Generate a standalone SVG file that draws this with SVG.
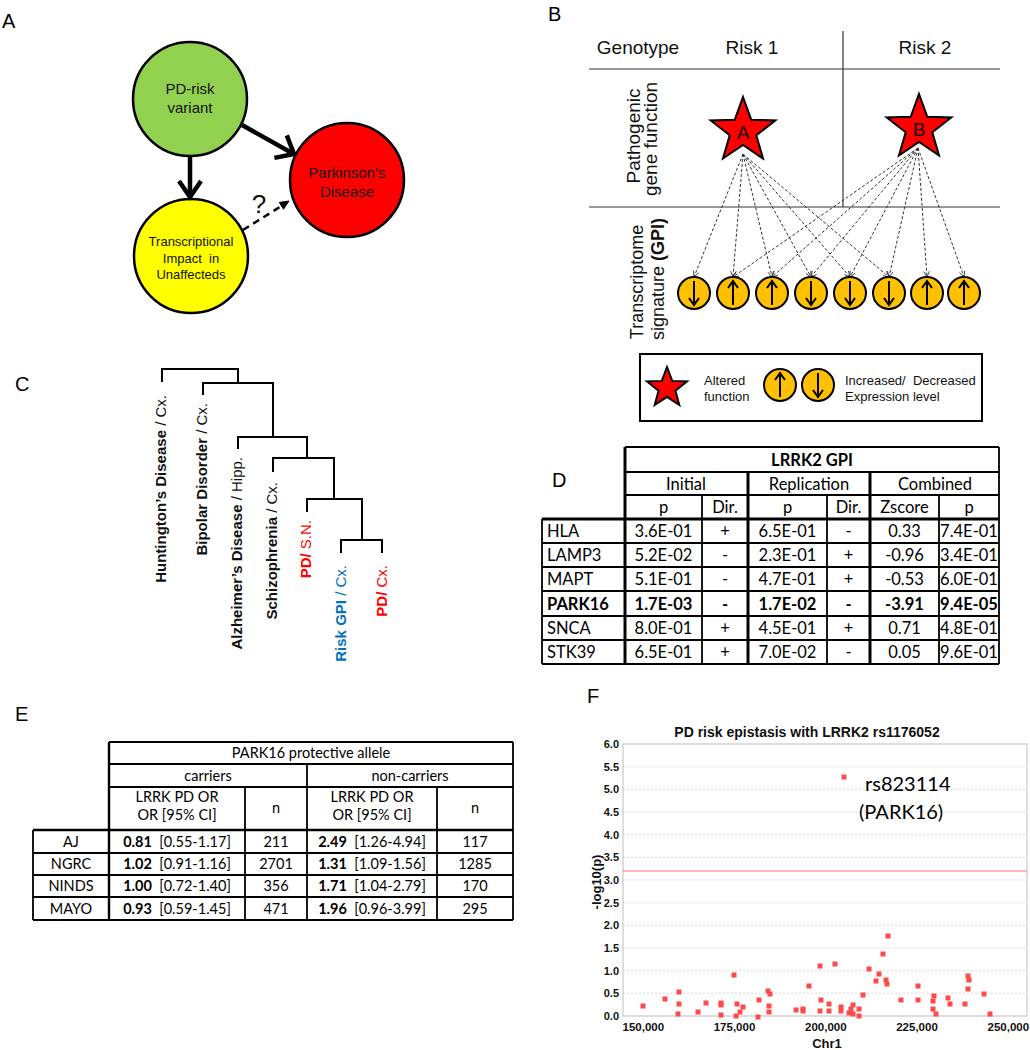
<svg xmlns="http://www.w3.org/2000/svg" width="1030" height="1050" viewBox="0 0 1030 1050">
<defs>
<style>
.lbl{font-family:"Liberation Sans",Arial,sans-serif;font-size:20px;fill:#000}
.ar{font-family:"Liberation Sans",Arial,sans-serif;fill:#111}
.cal{font-family:Lato,"Liberation Sans",sans-serif;fill:#000}
.tl{stroke:#000;stroke-width:1.8;fill:none}
.tk{stroke:#000;stroke-width:3;fill:none}
.dg{stroke:#000;stroke-width:2;fill:none}
.dash{stroke:#333;stroke-width:1;stroke-dasharray:3,2;fill:none}
.star{fill:#FF0000;stroke:#000;stroke-width:2;stroke-linejoin:miter}
.oc{fill:#FFC000;stroke:#000;stroke-width:2}
.ca{stroke:#000;stroke-width:2;fill:none}
.grid{stroke:#d8d8d8;stroke-width:1;stroke-dasharray:2,2}
.pt{fill:#FF4A4A}
.ax{font-family:"Liberation Sans",Arial,sans-serif;font-weight:bold;fill:#111}
</style>
<marker id="oa" viewBox="0 0 10 10" refX="9" refY="5" markerWidth="7" markerHeight="7" orient="auto" markerUnits="userSpaceOnUse">
<path d="M1,1 L9,5 L1,9" fill="none" stroke="#333" stroke-width="1.2"/>
</marker>
<g id="aup"><line x1="0" y1="12" x2="0" y2="-12"/><path d="M-5,-5 L0,-12 L5,-5"/></g>
</defs>
<rect width="1030" height="1050" fill="#fff"/>

<!-- Panel labels -->
<text class="lbl" x="2" y="28">A</text>
<text class="lbl" x="548" y="21">B</text>
<text class="lbl" x="15" y="391">C</text>
<text class="lbl" x="552" y="487">D</text>
<text class="lbl" x="15" y="721">E</text>
<text class="lbl" x="587" y="703">F</text>

<!-- Panel A -->
<g id="nodeA-variant">
<circle cx="190" cy="99" r="57" fill="#92D050" stroke="#000" stroke-width="2.5"/>
<text class="ar" x="190" y="94" font-size="15" text-anchor="middle">PD-risk</text>
<text class="ar" x="190" y="113" font-size="15" text-anchor="middle">variant</text>
</g>
<g id="nodeA-pd">
<circle cx="347" cy="180" r="57" fill="#FF0000" stroke="#000" stroke-width="2.5"/>
<text class="ar" x="347" y="178" font-size="15" text-anchor="middle" fill="#222">Parkinson’s</text>
<text class="ar" x="347" y="197" font-size="15" text-anchor="middle" fill="#222">Disease</text>
</g>
<g id="nodeA-tx">
<circle cx="191" cy="256" r="57" fill="#FFFF00" stroke="#000" stroke-width="2.5"/>
<text class="ar" x="191" y="246" font-size="13" text-anchor="middle">Transcriptional</text>
<text class="ar" x="191" y="263" font-size="13" text-anchor="middle" xml:space="preserve">Impact  in</text>
<text class="ar" x="191" y="279" font-size="13" text-anchor="middle">Unaffecteds</text>
</g>
<g id="connA" stroke="#000" fill="none">
<line x1="190" y1="156" x2="190" y2="195" stroke-width="4.5"/>
<path d="M179,181 L190,197 L201,181" stroke-width="4.5"/>
<line x1="242" y1="125" x2="292" y2="153" stroke-width="4.5"/>
<path d="M286.8,135.4 L294,154 L274.4,157.9" stroke-width="4.5"/>
<line x1="243" y1="230" x2="283" y2="205" stroke-width="2.5" stroke-dasharray="7,5"/>
<path d="M289,201 L283.5,209.2 L279.3,202.4 Z" fill="#000" stroke-width="1"/>
</g>
<text class="ar" x="259" y="213" font-size="26" text-anchor="middle" fill="#000">?</text>

<!-- Panel B -->
<g id="gridB" stroke="#333" stroke-width="1.2">
<line x1="589" y1="69" x2="1000" y2="69"/>
<line x1="589" y1="207" x2="1000" y2="207"/>
<line x1="843" y1="31" x2="843" y2="207"/>
</g>
<g id="headB">
<text class="ar" x="638" y="54" font-size="19" text-anchor="middle">Genotype</text>
<text class="ar" x="752" y="54" font-size="19" text-anchor="middle">Risk 1</text>
<text class="ar" x="925" y="54" font-size="19" text-anchor="middle">Risk 2</text>
<text class="ar" font-size="19" text-anchor="middle" transform="translate(640,136) rotate(-90)">Pathogenic</text>
<text class="ar" font-size="19" text-anchor="middle" transform="translate(657,139) rotate(-90)">gene function</text>
<text class="ar" font-size="18" text-anchor="middle" transform="translate(643,282) rotate(-90)">Transcriptome</text>
<text class="ar" font-size="18" text-anchor="middle" transform="translate(664,279) rotate(-90)">signature <tspan font-weight="bold">(GPI)</tspan></text>
</g>
<g id="connB" class="dash" marker-end="url(#oa)">
<line x1="743" y1="154" x2="694" y2="277" marker-end="url(#oa)"/>
<line x1="743" y1="154" x2="733" y2="277" marker-end="url(#oa)"/>
<line x1="743" y1="154" x2="772" y2="277" marker-end="url(#oa)"/>
<line x1="743" y1="154" x2="811" y2="277" marker-end="url(#oa)"/>
<line x1="743" y1="154" x2="850" y2="277" marker-end="url(#oa)"/>
<line x1="743" y1="154" x2="889" y2="277" marker-end="url(#oa)"/>
<line x1="918" y1="148" x2="733" y2="277" marker-end="url(#oa)"/>
<line x1="918" y1="148" x2="772" y2="277" marker-end="url(#oa)"/>
<line x1="918" y1="148" x2="811" y2="277" marker-end="url(#oa)"/>
<line x1="918" y1="148" x2="850" y2="277" marker-end="url(#oa)"/>
<line x1="918" y1="148" x2="889" y2="277" marker-end="url(#oa)"/>
<line x1="918" y1="148" x2="927" y2="277" marker-end="url(#oa)"/>
<line x1="918" y1="148" x2="964" y2="277" marker-end="url(#oa)"/>
</g>
<g id="starA">
<polygon class="star" points="743,97 751.2,119.7 775.3,120.5 756.3,135.3 763,158.5 743,145 723,158.5 729.7,135.3 710.7,120.5 734.8,119.7"/>
<text class="ar" x="743" y="139" font-size="19" text-anchor="middle" fill="#222">A</text>
</g>
<g id="starB">
<polygon class="star" points="919,94 927.2,116.7 951.3,117.5 932.3,132.3 939,155.5 919,142 899,155.5 905.7,132.3 886.7,117.5 910.8,116.7"/>
<text class="ar" x="919" y="136" font-size="19" text-anchor="middle" fill="#222">B</text>
</g>
<g id="genes">
<circle class="oc" cx="694" cy="293" r="16"/><use href="#aup" class="ca" transform="translate(694,293) rotate(180)"/>
<circle class="oc" cx="733" cy="293" r="16"/><use href="#aup" class="ca" transform="translate(733,293)"/>
<circle class="oc" cx="772" cy="293" r="16"/><use href="#aup" class="ca" transform="translate(772,293)"/>
<circle class="oc" cx="811" cy="293" r="16"/><use href="#aup" class="ca" transform="translate(811,293) rotate(180)"/>
<circle class="oc" cx="850" cy="293" r="16"/><use href="#aup" class="ca" transform="translate(850,293) rotate(180)"/>
<circle class="oc" cx="889" cy="293" r="16"/><use href="#aup" class="ca" transform="translate(889,293) rotate(180)"/>
<circle class="oc" cx="927" cy="293" r="16"/><use href="#aup" class="ca" transform="translate(927,293)"/>
<circle class="oc" cx="964" cy="293" r="16"/><use href="#aup" class="ca" transform="translate(964,293)"/>
</g>
<g id="legendB">
<rect x="640" y="354" width="342" height="67" fill="none" stroke="#000" stroke-width="2"/>
<polygon class="star" points="667,367 672.2,380.9 687,381.5 675.4,390.7 679.3,405 667,396.8 654.7,405 658.6,390.7 647,381.5 661.8,380.9"/>
<text class="ar" x="704" y="385" font-size="13">Altered</text>
<text class="ar" x="704" y="401" font-size="13">function</text>
<circle class="oc" cx="780" cy="385" r="16"/><use href="#aup" class="ca" transform="translate(780,385)"/>
<circle class="oc" cx="818" cy="385" r="16"/><use href="#aup" class="ca" transform="translate(818,385) rotate(180)"/>
<text class="ar" x="845" y="385" font-size="13" xml:space="preserve">Increased/  Decreased</text>
<text class="ar" x="845" y="401" font-size="13">Expression level</text>
</g>

<!-- Panel C dendrogram -->
<g id="dendro" class="dg">
<path d="M162,382 V369 H238 V383"/>
<path d="M203,395 V383 H273 V437"/>
<path d="M238,449 V437 H307 V458"/>
<path d="M273,472 V458 H334 V499"/>
<path d="M307,512 V499 H362 V540"/>
<path d="M341,553 V540 H382 V553"/>
</g>
<g id="leaves" class="ar" font-size="15">
<text transform="translate(166,395) rotate(-90)" text-anchor="end"><tspan font-weight="bold">Huntington’s Disease</tspan> / Cx.</text>
<text transform="translate(207,403) rotate(-90)" text-anchor="end"><tspan font-weight="bold">Bipolar Disorder</tspan> / Cx.</text>
<text transform="translate(242,457) rotate(-90)" text-anchor="end"><tspan font-weight="bold">Alzheimer’s Disease</tspan> / Hipp.</text>
<text transform="translate(277,482) rotate(-90)" text-anchor="end"><tspan font-weight="bold">Schizophrenia</tspan> / Cx.</text>
<text transform="translate(311,520) rotate(-90)" text-anchor="end" fill="#FF0000"><tspan font-weight="bold">PD/</tspan> S.N.</text>
<text transform="translate(346,565) rotate(-90)" text-anchor="end" fill="#0070C0"><tspan font-weight="bold">Risk GPI</tspan> / Cx.</text>
<text transform="translate(387,565) rotate(-90)" text-anchor="end" fill="#FF0000"><tspan font-weight="bold">PD/</tspan> Cx.</text>
</g>

<!-- Panel D table -->
<g id="tableD">
<g class="tl">
<line x1="625" y1="447" x2="999" y2="447"/>
<line x1="625" y1="472" x2="999" y2="472"/>
<line x1="625" y1="495" x2="999" y2="495"/>
<line x1="542" y1="543" x2="999" y2="543"/>
<line x1="542" y1="567" x2="999" y2="567"/>
<line x1="542" y1="591" x2="999" y2="591"/>
<line x1="542" y1="616" x2="999" y2="616"/>
<line x1="542" y1="640" x2="999" y2="640"/>
<line x1="542" y1="664" x2="999" y2="664"/>
<line x1="999" y1="447" x2="999" y2="664"/>
<line x1="542" y1="519" x2="542" y2="664"/>
<line x1="702" y1="495" x2="702" y2="664"/>
<line x1="827" y1="495" x2="827" y2="664"/>
<line x1="939" y1="495" x2="939" y2="664"/>
</g>
<g class="tk">
<line x1="542" y1="519" x2="999" y2="519"/>
<line x1="625" y1="447" x2="625" y2="664"/>
<line x1="748" y1="472" x2="748" y2="664"/>
<line x1="870" y1="472" x2="870" y2="664"/>
</g>
<g class="cal" font-size="16.5" text-anchor="middle">
<text x="812" y="465.5" font-weight="bold">LRRK2 GPI</text>
<text x="686" y="489.5">Initial</text>
<text x="809" y="489.5">Replication</text>
<text x="935" y="489.5">Combined</text>
<text x="663.5" y="513">p</text><text x="725" y="513">Dir.</text>
<text x="787.5" y="513">p</text><text x="848.5" y="513">Dir.</text>
<text x="904.5" y="513">Zscore</text><text x="969" y="513">p</text>
</g>
<g class="cal" font-size="16.5" text-anchor="middle">
<text x="547" y="537" text-anchor="start">HLA</text><text x="663.5" y="537">3.6E-01</text><text x="725" y="537">+</text><text x="787.5" y="537">6.5E-01</text><text x="848.5" y="537">-</text><text x="904.5" y="537">0.33</text><text x="969" y="537">7.4E-01</text>
<text x="547" y="561" text-anchor="start">LAMP3</text><text x="663.5" y="561">5.2E-02</text><text x="725" y="561">-</text><text x="787.5" y="561">2.3E-01</text><text x="848.5" y="561">+</text><text x="904.5" y="561">-0.96</text><text x="969" y="561">3.4E-01</text>
<text x="547" y="585" text-anchor="start">MAPT</text><text x="663.5" y="585">5.1E-01</text><text x="725" y="585">-</text><text x="787.5" y="585">4.7E-01</text><text x="848.5" y="585">+</text><text x="904.5" y="585">-0.53</text><text x="969" y="585">6.0E-01</text>
<g font-weight="bold"><text x="547" y="609.5" text-anchor="start">PARK16</text><text x="663.5" y="609.5">1.7E-03</text><text x="725" y="609.5">-</text><text x="787.5" y="609.5">1.7E-02</text><text x="848.5" y="609.5">-</text><text x="904.5" y="609.5">-3.91</text><text x="969" y="609.5">9.4E-05</text></g>
<text x="547" y="634" text-anchor="start">SNCA</text><text x="663.5" y="634">8.0E-01</text><text x="725" y="634">+</text><text x="787.5" y="634">4.5E-01</text><text x="848.5" y="634">+</text><text x="904.5" y="634">0.71</text><text x="969" y="634">4.8E-01</text>
<text x="547" y="658" text-anchor="start">STK39</text><text x="663.5" y="658">6.5E-01</text><text x="725" y="658">+</text><text x="787.5" y="658">7.0E-02</text><text x="848.5" y="658">-</text><text x="904.5" y="658">0.05</text><text x="969" y="658">9.6E-01</text>
</g>
</g>

<!-- Panel E table -->
<g id="tableE">
<g class="tl">
<line x1="109" y1="742" x2="513" y2="742"/>
<line x1="109" y1="764" x2="513" y2="764"/>
<line x1="109" y1="787" x2="513" y2="787"/>
<line x1="33" y1="853" x2="513" y2="853"/>
<line x1="33" y1="875" x2="513" y2="875"/>
<line x1="33" y1="897" x2="513" y2="897"/>
<line x1="33" y1="920" x2="513" y2="920"/>
<line x1="513" y1="742" x2="513" y2="920"/>
<line x1="33" y1="830" x2="33" y2="920"/>
<line x1="307" y1="764" x2="307" y2="920"/>
<line x1="245" y1="787" x2="245" y2="920"/>
<line x1="437" y1="787" x2="437" y2="920"/>
</g>
<g class="tk" style="stroke-width:2.4">
<line x1="33" y1="830" x2="513" y2="830"/>
<line x1="109" y1="742" x2="109" y2="920"/>
</g>
<g class="cal" font-size="14.5" text-anchor="middle">
<text x="311" y="758">PARK16 protective allele</text>
<text x="208" y="780.5">carriers</text>
<text x="410" y="780.5">non-carriers</text>
<text x="177" y="802">LRRK PD OR</text>
<text x="177" y="820">OR [95% CI]</text>
<text x="276" y="813">n</text>
<text x="372" y="802">LRRK PD OR</text>
<text x="372" y="820">OR [95% CI]</text>
<text x="475" y="813">n</text>
<text x="71" y="846.5">AJ</text>
<text x="177" y="846.5" xml:space="preserve"><tspan font-weight="bold">0.81</tspan>  [0.55-1.17]</text>
<text x="276" y="846.5">211</text>
<text x="372" y="846.5" xml:space="preserve"><tspan font-weight="bold">2.49</tspan>  [1.26-4.94]</text>
<text x="475" y="846.5">117</text>
<text x="71" y="869">NGRC</text>
<text x="177" y="869" xml:space="preserve"><tspan font-weight="bold">1.02</tspan>  [0.91-1.16]</text>
<text x="276" y="869">2701</text>
<text x="372" y="869" xml:space="preserve"><tspan font-weight="bold">1.31</tspan>  [1.09-1.56]</text>
<text x="475" y="869">1285</text>
<text x="71" y="891">NINDS</text>
<text x="177" y="891" xml:space="preserve"><tspan font-weight="bold">1.00</tspan>  [0.72-1.40]</text>
<text x="276" y="891">356</text>
<text x="372" y="891" xml:space="preserve"><tspan font-weight="bold">1.71</tspan>  [1.04-2.79]</text>
<text x="475" y="891">170</text>
<text x="71" y="913.5">MAYO</text>
<text x="177" y="913.5" xml:space="preserve"><tspan font-weight="bold">0.93</tspan>  [0.59-1.45]</text>
<text x="276" y="913.5">471</text>
<text x="372" y="913.5" xml:space="preserve"><tspan font-weight="bold">1.96</tspan>  [0.96-3.99]</text>
<text x="475" y="913.5">295</text>
</g>
</g>

<!-- Panel F plot -->
<g id="plotF">
<text class="ax" x="807" y="737" font-size="14" text-anchor="middle">PD risk epistasis with LRRK2 rs1176052</text>
<g class="grid">
<line x1="623" y1="993.3" x2="1027" y2="993.3"/>
<line x1="623" y1="970.7" x2="1027" y2="970.7"/>
<line x1="623" y1="948" x2="1027" y2="948"/>
<line x1="623" y1="925.3" x2="1027" y2="925.3"/>
<line x1="623" y1="902.7" x2="1027" y2="902.7"/>
<line x1="623" y1="880" x2="1027" y2="880"/>
<line x1="623" y1="857.3" x2="1027" y2="857.3"/>
<line x1="623" y1="834.7" x2="1027" y2="834.7"/>
<line x1="623" y1="812" x2="1027" y2="812"/>
<line x1="623" y1="789.3" x2="1027" y2="789.3"/>
<line x1="623" y1="766.7" x2="1027" y2="766.7"/>
</g>
<rect x="623" y="744" width="404" height="272" fill="none" stroke="#bdbdbd" stroke-width="1"/>
<line x1="623" y1="871" x2="1027" y2="871" stroke="#FF7070" stroke-width="1.2"/>
<g class="ax" font-size="11" text-anchor="end">
<text x="619" y="1020">0.0</text>
<text x="619" y="997.3">0.5</text>
<text x="619" y="974.7">1.0</text>
<text x="619" y="952">1.5</text>
<text x="619" y="929.3">2.0</text>
<text x="619" y="906.7">2.5</text>
<text x="619" y="884">3.0</text>
<text x="619" y="861.3">3.5</text>
<text x="619" y="838.7">4.0</text>
<text x="619" y="816">4.5</text>
<text x="619" y="793.3">5.0</text>
<text x="619" y="770.7">5.5</text>
<text x="619" y="748">6.0</text>
</g>
<g class="ax" font-size="11.5" text-anchor="middle">
<text x="643.3" y="1031">150,000</text>
<text x="734.5" y="1031">175,000</text>
<text x="825.8" y="1031">200,000</text>
<text x="917" y="1031">225,000</text>
<text x="1008.3" y="1031">250,000</text>
</g>
<text class="ax" x="827" y="1048" font-size="13" text-anchor="middle">Chr1</text>
<text class="ax" font-size="13" text-anchor="middle" transform="translate(601,882) rotate(-90)">-log10(p)</text>
<g class="pt">
<rect x="640.5" y="1003.5" width="5" height="5"/><rect x="662.5" y="996.5" width="5" height="5"/><rect x="676.5" y="989.5" width="5" height="5"/><rect x="676.5" y="1001.5" width="5" height="5"/><rect x="675.5" y="1011.5" width="5" height="5"/>
<rect x="695.5" y="1009.5" width="5" height="5"/><rect x="703.5" y="1000.5" width="5" height="5"/><rect x="718.5" y="1000.5" width="5" height="5"/><rect x="718.5" y="1002.5" width="5" height="5"/><rect x="718.5" y="1012.5" width="5" height="5"/>
<rect x="731.5" y="972.5" width="5" height="5"/><rect x="734.5" y="1001.5" width="5" height="5"/><rect x="733.5" y="1013.5" width="5" height="5"/><rect x="737.5" y="1009.5" width="5" height="5"/><rect x="740.5" y="1004.5" width="5" height="5"/>
<rect x="756.5" y="997.5" width="5" height="5"/><rect x="755.5" y="1014.5" width="5" height="5"/><rect x="765.5" y="988.5" width="5" height="5"/><rect x="767.5" y="991.5" width="5" height="5"/><rect x="766.5" y="1003.5" width="5" height="5"/><rect x="766.5" y="1009.5" width="5" height="5"/>
<rect x="793.5" y="1007.5" width="5" height="5"/><rect x="800.5" y="1006.5" width="5" height="5"/><rect x="800.5" y="1008.5" width="5" height="5"/><rect x="806.5" y="983.5" width="5" height="5"/><rect x="817.5" y="963.5" width="5" height="5"/><rect x="818.5" y="997.5" width="5" height="5"/><rect x="817.5" y="1008.5" width="5" height="5"/>
<rect x="826.5" y="1001.5" width="5" height="5"/><rect x="826.5" y="1008.5" width="5" height="5"/><rect x="832.5" y="961.5" width="5" height="5"/><rect x="838.5" y="1004.5" width="5" height="5"/><rect x="838.5" y="1008.5" width="5" height="5"/>
<rect x="846.5" y="1010.5" width="5" height="5"/><rect x="848.5" y="1006.5" width="5" height="5"/><rect x="850.5" y="1002.5" width="5" height="5"/><rect x="850.5" y="1011.5" width="5" height="5"/><rect x="856.5" y="1006.5" width="5" height="5"/><rect x="856.5" y="1013.5" width="5" height="5"/>
<rect x="860.5" y="992.5" width="5" height="5"/><rect x="866.5" y="966.5" width="5" height="5"/><rect x="873.5" y="978.5" width="5" height="5"/><rect x="876.5" y="971.5" width="5" height="5"/><rect x="880.5" y="951.5" width="5" height="5"/><rect x="883.5" y="977.5" width="5" height="5"/><rect x="884.5" y="981.5" width="5" height="5"/><rect x="885.5" y="933.5" width="5" height="5"/>
<rect x="898.5" y="997.5" width="5" height="5"/><rect x="915.5" y="983.5" width="5" height="5"/><rect x="915.5" y="997.5" width="5" height="5"/><rect x="931.5" y="993.5" width="5" height="5"/><rect x="930.5" y="998.5" width="5" height="5"/><rect x="930.5" y="1006.5" width="5" height="5"/><rect x="933.5" y="1011.5" width="5" height="5"/>
<rect x="945.5" y="995.5" width="5" height="5"/><rect x="947.5" y="1001.5" width="5" height="5"/><rect x="962.5" y="1001.5" width="5" height="5"/><rect x="965.5" y="973.5" width="5" height="5"/><rect x="966.5" y="977.5" width="5" height="5"/><rect x="965.5" y="986.5" width="5" height="5"/><rect x="981.5" y="991.5" width="5" height="5"/><rect x="987.5" y="1011.5" width="5" height="5"/>
<rect x="841.5" y="774.5" width="5" height="5"/>
</g>
<text class="cal" x="865" y="791" font-size="20">rs823114</text>
<text class="cal" x="859" y="819" font-size="20">(PARK16)</text>
</g>
</svg>
